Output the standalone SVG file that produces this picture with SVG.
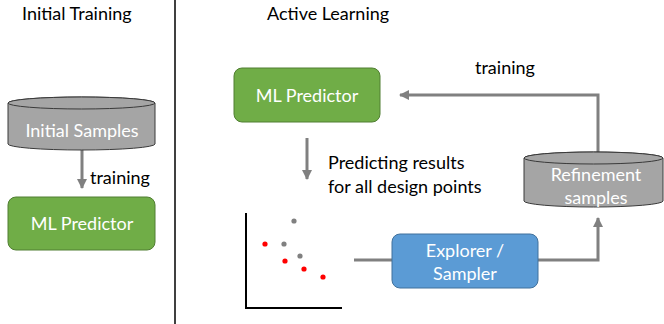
<svg xmlns="http://www.w3.org/2000/svg" width="664" height="324" viewBox="0 0 664 324">
<style>
text{font-family:Lato,"Open Sans","Liberation Sans",sans-serif;font-size:18px;}
.lbl{fill:#000;}
.wt{fill:#fff;text-anchor:middle;}
.cyl{fill:#a5a5a5;stroke:#3a3a3a;stroke-width:1;}
.green{fill:#70ad47;stroke:#507e32;stroke-width:1;}
.blue{fill:#5b9bd5;stroke:#41719c;stroke-width:1;}
.conn{fill:none;stroke:#808080;stroke-width:3;}
.red{fill:#ff0000;}
.grey{fill:#808080;}
</style>
<defs>
<marker id="ah" viewBox="0 0 10 10" refX="9" refY="5" markerWidth="3.4" markerHeight="3.4" orient="auto" markerUnits="strokeWidth">
<path d="M0,0 L10,5 L0,10 z" fill="#808080"/>
</marker>
</defs>
<rect width="664" height="324" fill="#fff"/>
<line x1="175" y1="0" x2="175" y2="324" stroke="#000" stroke-width="1.5"/>
<text class="lbl" x="22" y="20">Initial Training</text>
<text class="lbl" x="267" y="20">Active Learning</text>

<g id="connectors">
<path class="conn" d="M82,150 V188" marker-end="url(#ah)"/>
<path class="conn" d="M598,152 V95 H400" marker-end="url(#ah)"/>
<path class="conn" d="M307,138 V179" marker-end="url(#ah)"/>
<path class="conn" d="M354,260 H392"/>
<path class="conn" d="M538,260 H598 V218" marker-end="url(#ah)"/>
</g>
<text class="lbl" x="90" y="184">training</text>
<text class="lbl" x="475" y="74">training</text>
<text class="lbl" x="328" y="169">Predicting results</text>
<text class="lbl" x="328" y="193">for all design points</text>

<g id="initial-samples">
<path class="cyl" d="M8,103 V144 A73.5,6 0 0 0 155,144 V103 A73.5,6 0 0 0 8,103 Z"/>
<ellipse class="cyl" cx="81.5" cy="103" rx="73.5" ry="6"/>
<text class="wt" x="82" y="137">Initial Samples</text>
</g>

<g id="ml-predictor-left">
<rect class="green" x="8" y="197" width="147" height="53" rx="8"/>
<text class="wt" x="82" y="230">ML Predictor</text>
</g>

<g id="ml-predictor-right">
<rect class="green" x="234" y="68" width="146" height="54" rx="8"/>
<text class="wt" x="307" y="102">ML Predictor</text>
</g>

<g id="refinement-samples">
<path class="cyl" d="M524,158 V201 A69.5,6 0 0 0 663,201 V158 A69.5,6 0 0 0 524,158 Z"/>
<ellipse class="cyl" cx="593.5" cy="158" rx="69.5" ry="6"/>
<text class="wt" x="596" y="181">Refinement</text>
<text class="wt" x="596" y="204">samples</text>
</g>

<g id="explorer-sampler">
<rect class="blue" x="392" y="234" width="146" height="54" rx="8"/>
<text class="wt" x="465" y="257">Explorer /</text>
<text class="wt" x="465" y="280">Sampler</text>
</g>

<g id="plot">
<path d="M246,213 V308 H342" fill="none" stroke="#000" stroke-width="2"/>
<circle class="grey" cx="294" cy="221" r="2.6"/>
<circle class="red" cx="265" cy="244" r="2.6"/>
<circle class="grey" cx="284" cy="244" r="2.6"/>
<circle class="grey" cx="300" cy="256" r="2.6"/>
<circle class="red" cx="285" cy="261" r="2.6"/>
<circle class="red" cx="304" cy="269" r="2.6"/>
<circle class="red" cx="323" cy="277" r="2.6"/>
</g>
</svg>
